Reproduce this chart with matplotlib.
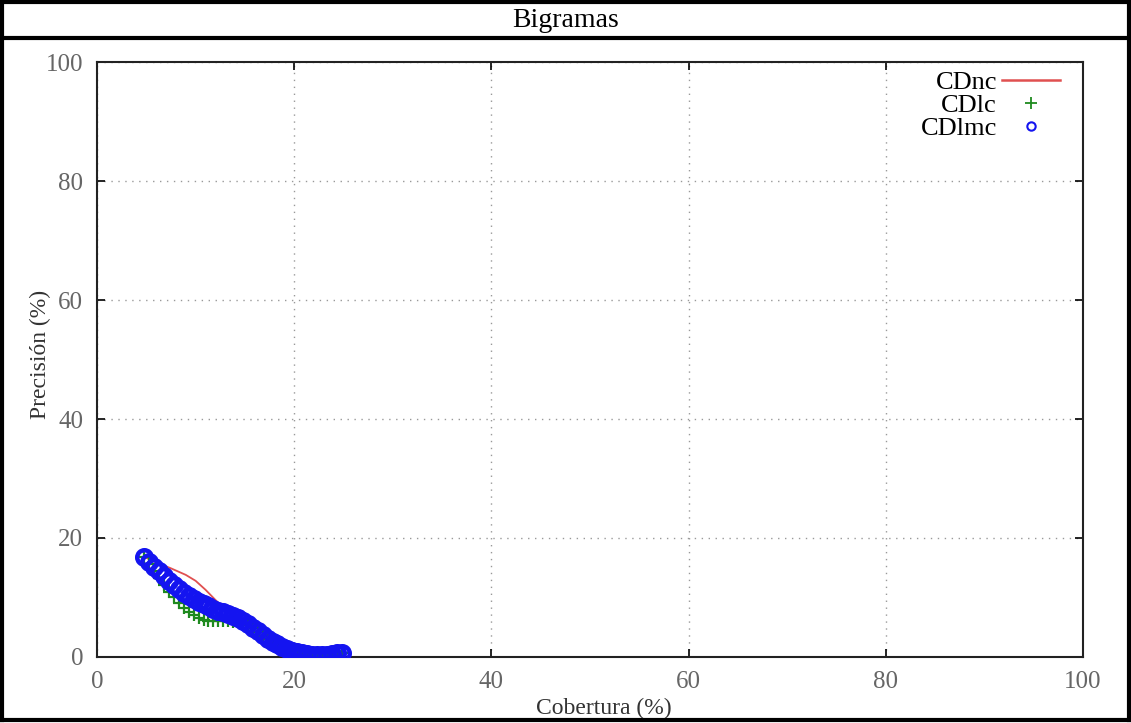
import matplotlib.pyplot as plt
from matplotlib.lines import Line2D

# CDnc (line)
cdnc_x = [4.8, 6.0, 7.5, 9.0, 10.0, 11.0, 12.0, 13.0, 14.0, 15.0, 16.0, 17.0,
          18.0, 19.0, 20.0, 21.0, 22.0, 23.0, 24.0, 24.8]
cdnc_y = [16.8, 15.9, 14.9, 13.8, 12.8, 11.3, 9.6, 8.0, 6.8, 5.7, 4.5, 3.4,
          2.3, 1.5, 0.9, 0.5, 0.4, 0.4, 0.6, 0.7]

# CDlc (plus markers)
cdlc_x = [4.8, 5.3, 5.8, 6.3, 6.8, 7.3, 7.8, 8.3, 8.8, 9.3, 9.8, 10.3, 10.8,
          11.3, 11.8, 12.3, 12.8, 13.3, 13.8, 14.3, 14.8, 15.3, 15.8, 16.3,
          16.8, 17.3, 17.8, 18.3, 18.8, 19.3, 19.8, 20.3, 20.8, 21.3, 21.8,
          22.3, 22.8, 23.3, 23.8, 24.3, 24.8]
cdlc_y = [16.8, 15.6, 14.4, 13.2, 12.1, 11.0, 10.0, 9.1, 8.3, 7.6, 7.0, 6.6,
          6.3, 6.1, 6.0, 6.0, 6.0, 6.0, 5.9, 5.8, 5.6, 5.3, 4.8, 4.2, 3.6,
          3.0, 2.5, 2.0, 1.6, 1.2, 0.9, 0.7, 0.5, 0.4, 0.4, 0.4, 0.4, 0.4,
          0.5, 0.6, 0.7]

# CDlmc (circle markers)
cdlmc_x = cdlc_x
cdlmc_y = [16.8, 16.0, 15.2, 14.4, 13.6, 12.8, 12.1, 11.4, 10.8, 10.2, 9.7,
           9.3, 8.9, 8.5, 8.1, 7.8, 7.5, 7.2, 6.9, 6.5, 6.0, 5.5, 4.9, 4.3,
           3.7, 3.1, 2.6, 2.1, 1.7, 1.3, 1.0, 0.8, 0.6, 0.5, 0.4, 0.4, 0.4,
           0.4, 0.5, 0.6, 0.7]

ticks = [0, 20, 40, 60, 80, 100]

plt.rcParams["font.family"] = ["Liberation Serif", "DejaVu Serif"]

fig = plt.figure(figsize=(11.31, 7.23), dpi=100)
ax = fig.add_axes([0.0858, 0.0913, 0.8718, 0.8229])

ax.plot(cdnc_x, cdnc_y, color="#e05050", linewidth=1.3, label="CDnc", zorder=3)
ax.plot(cdlc_x, cdlc_y, linestyle="none", marker="+", color="#1f8a1f",
        markersize=9, markeredgewidth=1.6, label="CDlc", zorder=4)
ax.plot(cdlmc_x, cdlmc_y, linestyle="none", marker="o", markerfacecolor="none",
        markeredgecolor="#1414f0", markersize=10.5, markeredgewidth=3.2,
        label="CDlmc", zorder=5)

ax.set_xlim(0, 100)
ax.set_ylim(0, 100)
ax.set_xticks(ticks)
ax.set_yticks(ticks)
ax.tick_params(direction="in", length=6, width=1.2, top=True, right=True,
               labelsize=18, labelcolor="#666666", pad=10)
ax.grid(True, linestyle=(0, (1, 4)), color="#999999", linewidth=1.0)
for s in ax.spines.values():
    s.set_linewidth(1.5)
    s.set_color("#222222")

ax.set_xlabel("Cobertura (%)", fontsize=17, color="#333333")
ax.xaxis.set_label_coords(0.514, -0.068)
ax.set_ylabel("Precisión (%)", fontsize=17, color="#333333")
ax.yaxis.set_label_coords(-0.047, 0.508)

handles = [
    Line2D([], [], color="#e05050", linewidth=1.8),
    Line2D([], [], linestyle="none", marker="+", color="#1f8a1f",
           markersize=8, markeredgewidth=1.3),
    Line2D([], [], linestyle="none", marker="o", markerfacecolor="none",
           markeredgecolor="#1414f0", markersize=6, markeredgewidth=1.5),
]
ax.legend(handles, ["CDnc", "CDlc", "CDlmc"], loc="upper right",
          bbox_to_anchor=(0.993, 1.012), frameon=False, markerfirst=False,
          fontsize=19, handlelength=2.2, handletextpad=0.2, labelspacing=-0.02,
          borderaxespad=0.2)

# table border and title row
W, H = 1131, 723
def fx(px):
    return px / W
def fy(py):
    return 1 - py / H
lw = 3
for xs, ys in [((2, 1129), (2, 2)), ((2, 1129), (720, 720)),
               ((2, 2), (2, 720)), ((1129, 1129), (2, 720)),
               ((2, 1129), (38, 38))]:
    fig.add_artist(Line2D([fx(x) for x in xs], [fy(y) for y in ys],
                          color="black", linewidth=lw))
fig.text(0.5, fy(27), "Bigramas", ha="center", va="baseline", fontsize=20)

fig.savefig("out.png", dpi=100)
